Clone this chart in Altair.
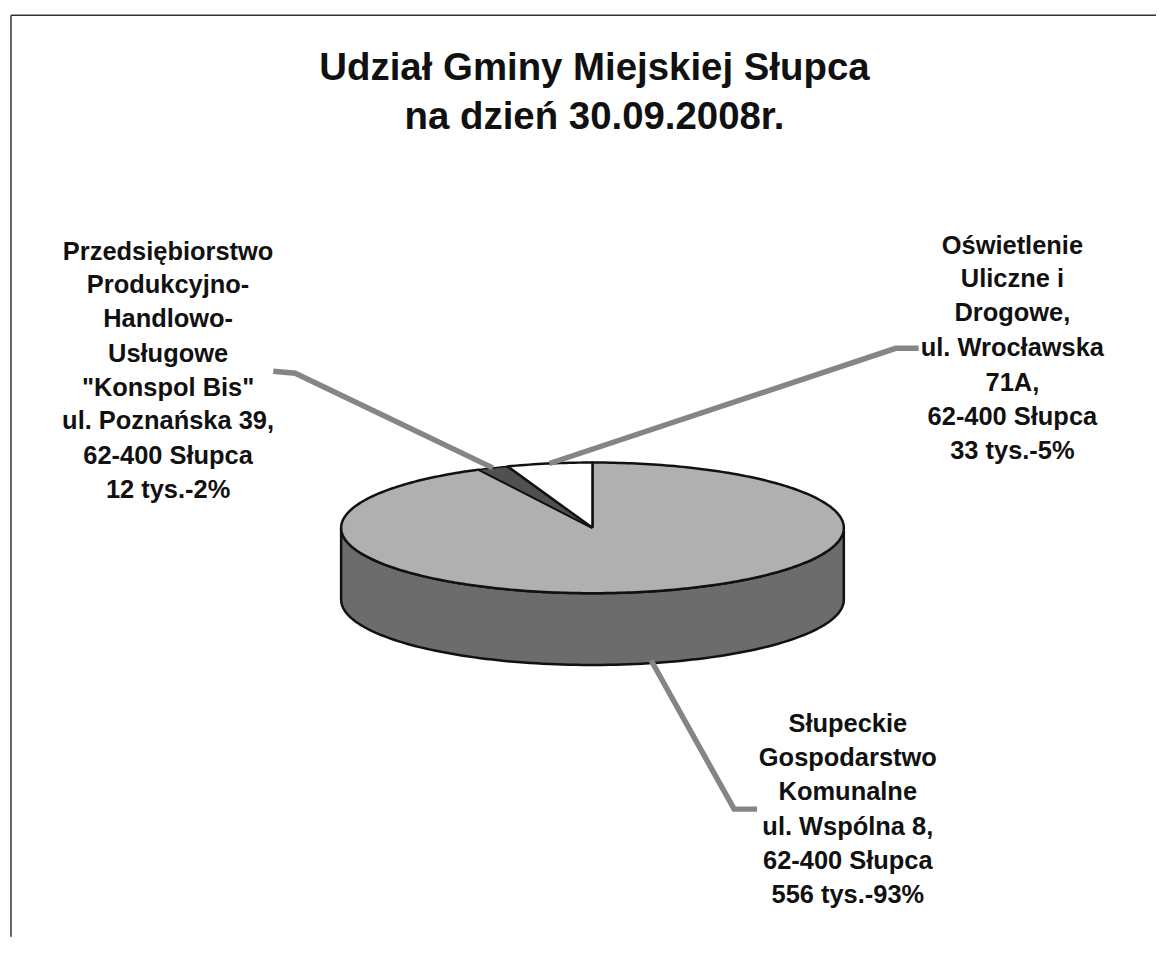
import numpy as np
import pandas as pd
import altair as alt

# --- chart values ---
names = ["Słupeckie Gospodarstwo Komunalne", "Konspol Bis", "Oświetlenie Uliczne i Drogowe"]
values = [556, 12, 33]
title_lines = ["Udział Gminy Miejskiej Słupca", "na dzień 30.09.2008r."]
label_big = ["Słupeckie", "Gospodarstwo", "Komunalne", "ul. Wspólna 8,", "62-400 Słupca", "556 tys.-93%"]
label_konspol = ["Przedsiębiorstwo", "Produkcyjno-", "Handlowo-", "Usługowe", '"Konspol Bis"',
                 "ul. Poznańska 39,", "62-400 Słupca", "12 tys.-2%"]
label_light = ["Oświetlenie", "Uliczne i", "Drogowe,", "ul. Wrocławska", "71A,", "62-400 Słupca", "33 tys.-5%"]

# --- layout (page pixels) ---
W, H = 1150, 930
CX, CY, RX, RY, DEPTH = 593, 528, 252, 65.5, 72
TOP_COL, SIDE_COL, DARK_COL, WHITE_COL, LEAD_COL = "#b0b0b0", "#6c6c6c", "#505050", "#ffffff", "#858585"

xs = alt.Scale(domain=[8, 8 + W], nice=False, zero=False)
ys = alt.Scale(domain=[8 + H, 8], nice=False, zero=False)
X = alt.X("x:Q", scale=xs, axis=None)
Y = alt.Y("y:Q", scale=ys, axis=None)


def rim(t, dy=0):
    t = np.radians(t)
    return CX + RX * np.sin(t), CY - RY * np.cos(t) + dy


def frame(px, py):
    return pd.DataFrame({"x": px, "y": py, "o": range(len(px))})


def polygon(df, fill, sw=2.5):
    return alt.Chart(df).mark_line(fill=fill, stroke="#111111", strokeWidth=sw, strokeJoin="round").encode(
        x=X, y=Y, order="o:Q")


total = sum(values)
bounds = np.cumsum([0] + values) / total * 360


def wedge(a, b):
    t = np.linspace(a, b, max(int(b - a), 2) + 1)
    px, py = rim(t)
    return frame([CX] + list(px) + [CX], [CY] + list(py) + [CY])


# side wall
t1 = np.linspace(90, 270, 120)
x1, y1 = rim(t1)
x2, y2 = rim(t1[::-1], DEPTH)
side = frame(list(x1) + list(x2) + [x1[0]], list(y1) + list(y2) + [y1[0]])

layers = [
    polygon(side, SIDE_COL),
    polygon(wedge(bounds[0], bounds[1]), TOP_COL),
    polygon(wedge(bounds[1], bounds[2]), DARK_COL, 1.5),
    polygon(wedge(bounds[2], bounds[3]), WHITE_COL),
]

# leader lines: start at the middle of each slice's rim, end at the label
mids = (bounds[:-1] + bounds[1:]) / 2
bx, by = rim(mids[0], DEPTH - 3)
kx, ky = rim(mids[1])
lx, ly = rim(mids[2])
leaders = [
    ([bx, 735, 758], [by, 810, 810]),
    ([kx, 295, 273], [ky, 373, 371]),
    ([lx, 897, 920], [ly, 348, 348]),
]
for px, py in leaders:
    layers.append(alt.Chart(frame(px, py)).mark_line(stroke=LEAD_COL, strokeWidth=5.5, strokeJoin="miter").encode(
        x=X, y=Y, order="o:Q"))

# page frame (top and left edges only)
layers.append(alt.Chart(frame([10, 1158], [14, 14])).mark_line(stroke="#333333", strokeWidth=1.5).encode(x=X, y=Y, order="o:Q"))
layers.append(alt.Chart(frame([10, 10], [14, 938])).mark_line(stroke="#333333", strokeWidth=1.5).encode(x=X, y=Y, order="o:Q"))


def text_layer(lines, cx, baselines, size):
    df = pd.DataFrame({"x": [cx] * len(lines), "y": baselines, "t": lines})
    return alt.Chart(df).mark_text(font="Liberation Sans", fontWeight="bold", fontSize=size, align="center",
                                   baseline="alphabetic", color="#111111").encode(x=X, y=Y, text="t:N")


layers += [
    text_layer(title_lines, 595, [78.5, 128], 38.5),
    text_layer(label_konspol, 167.5, [259, 293, 327, 362, 396, 429, 464, 498], 25.5),
    text_layer(label_light, 1014, [253, 287, 321, 356, 391, 425, 459], 25.5),
    text_layer(label_big, 849, [733, 767, 801, 836, 870, 904], 25.5),
]

chart = alt.layer(*layers).properties(width=W, height=H, padding=0).configure_view(stroke=None)
chart.save("out.html", embed_options={"renderer": "svg", "actions": False})
